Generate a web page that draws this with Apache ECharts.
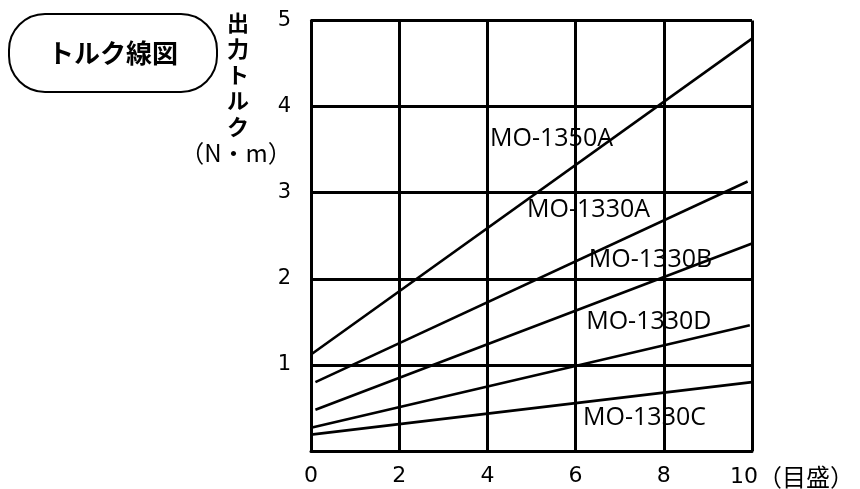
<!DOCTYPE html>
<html>
<head>
<meta charset="utf-8">
<script src="https://cdn.jsdelivr.net/npm/echarts@6/dist/echarts.min.js"></script>
<style>
  html, body { margin: 0; padding: 0; background: #fff; }
  #chart { width: 860px; height: 489px; }
</style>
</head>
<body>
<div id="chart"></div>
<script>
// 目盛 (x) vs 出力トルク N・m (y), start and end of each straight line
const seriesNames = ['MO-1350A', 'MO-1330A', 'MO-1330B', 'MO-1330D', 'MO-1330C'];
const mo1350A = [[0, 1.12], [10, 4.79]];
const mo1330A = [[0.1, 0.80], [9.9, 3.13]];
const mo1330B = [[0.1, 0.48], [10, 2.41]];
const mo1330D = [[0, 0.27], [9.95, 1.46]];
const mo1330C = [[0, 0.19], [10, 0.80]];
const xTicks = [0, 2, 4, 6, 8, 10];
const yTicks = [1, 2, 3, 4, 5];

const seriesData = [mo1350A, mo1330A, mo1330B, mo1330D, mo1330C];
// where each model name sits (data units, left-middle of text)
const labelAt = [[4.06, 3.63], [4.90, 2.80], [6.30, 2.22], [6.24, 1.50], [6.17, 0.38]];

const chart = echarts.init(document.getElementById('chart'));

const digitFont = 'DejaVu Sans';
const jpFont = 'Noto Sans CJK JP';

const option = {
  backgroundColor: '#fff',
  animation: false,
  grid: { left: 311, right: 108, top: 20.5, bottom: 37.3 },
  xAxis: {
    type: 'value',
    min: 0,
    max: 10,
    interval: 2,
    axisLine: { show: true, lineStyle: { color: '#000', width: 3 } },
    axisTick: { show: false },
    splitLine: { show: true, lineStyle: { color: '#000', width: 3 } },
    axisLabel: {
      color: '#000',
      fontSize: 22,
      fontFamily: digitFont,
      margin: 14,
      formatter: v => (v === 10 ? '{t|10}{u|（目盛）}' : String(v)),
      rich: {
        t: { fontSize: 22, fontFamily: digitFont, color: '#000', padding: [0, 0, 0, 80] },
        u: { fontSize: 24, fontFamily: jpFont, color: '#000' }
      }
    }
  },
  yAxis: {
    type: 'value',
    min: 0,
    max: 5,
    interval: 1,
    axisLine: { show: true, lineStyle: { color: '#000', width: 3 } },
    axisTick: { show: false },
    splitLine: { show: true, lineStyle: { color: '#000', width: 3 } },
    axisLabel: {
      color: '#000',
      fontSize: 21,
      fontFamily: digitFont,
      margin: 20,
      formatter: v => (yTicks.includes(v) ? String(v) : '')
    }
  },
  series: seriesNames.map((name, i) => ({
    name: name,
    type: 'line',
    data: seriesData[i],
    symbol: 'none',
    clip: false,
    lineStyle: { color: '#000', width: 2.6 },
    markPoint: {
      symbol: 'circle',
      symbolSize: 0,
      data: [{ coord: labelAt[i], value: name }],
      label: {
        show: true,
        position: 'right',
        distance: 0,
        formatter: name,
        color: '#000',
        fontSize: 25,
        fontFamily: 'Open Sans'
      }
    }
  })),
  graphic: [
    {
      type: 'rect',
      shape: { x: 9, y: 14, width: 208, height: 78, r: 36 },
      style: { fill: '#fff', stroke: '#000', lineWidth: 2 }
    },
    {
      type: 'text',
      x: 113,
      y: 53,
      style: {
        text: 'トルク線図',
        align: 'center',
        verticalAlign: 'middle',
        fontSize: 26,
        fontWeight: 'bold',
        fontFamily: jpFont,
        fill: '#000'
      }
    },
    {
      type: 'text',
      x: 238,
      y: 10,
      style: {
        text: '出\n力\nト\nル\nク',
        align: 'center',
        verticalAlign: 'top',
        fontSize: 22,
        lineHeight: 26,
        fontWeight: 'bold',
        fontFamily: jpFont,
        fill: '#000'
      }
    },
    {
      type: 'text',
      x: 236,
      y: 153,
      style: {
        text: '（N・m）',
        align: 'center',
        verticalAlign: 'middle',
        fontSize: 24,
        fontFamily: jpFont,
        fill: '#000'
      }
    }
  ]
};

chart.setOption(option);
</script>
</body>
</html>
